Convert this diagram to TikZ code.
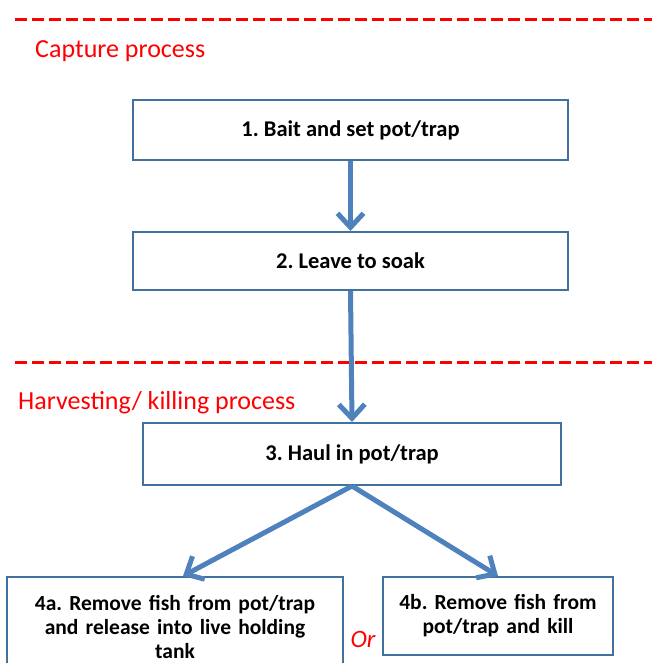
\documentclass[tikz,border=0pt]{standalone}
\usepackage{fontspec}
\setmainfont{Carlito}
\usetikzlibrary{arrows.meta}
\definecolor{boxline}{HTML}{41719C}
\definecolor{arrowblue}{HTML}{4F81BD}
\definecolor{headred}{HTML}{FF0000}
\frenchspacing
\tikzset{
  stepbox/.style={draw=boxline, line width=2pt, fill=white, inner sep=0pt, align=center,
    font=\fontsize{22.5}{24}\selectfont\bfseries},
  smallbox/.style={stepbox, font=\fontsize{21.5}{24}\selectfont\bfseries},
  flow/.style={draw=arrowblue, line width=5pt, -{Straight Barb[length=14pt,width=26pt,line width=5pt]}},
  sepline/.style={draw=headred, line width=3pt, dash pattern=on 12pt off 5pt},
  heading/.style={text=headred, anchor=west, inner sep=0pt, font=\fontsize{26}{30}\selectfont},
}
\begin{document}
\begin{tikzpicture}[x=1pt,y=-1pt]
\clip (0,0) rectangle (652,663);
\useasboundingbox (0,0) rectangle (652,663);
\coordinate (d1a) at (15,20);
\coordinate (d1b) at (652,20);
\coordinate (d2a) at (15,362);
\coordinate (d2b) at (652,362);
\draw[sepline] (d1a) -- (d1b);
\draw[sepline] (d2a) -- (d2b);
\node[heading] (h1) at (35,51) {Capture process};
\node[heading] (h2) at (18,403) {Harvesting/ killing process};
\node[stepbox, minimum width=435pt, minimum height=60pt] (b1) at (350.5,130) {1. Bait and set pot/trap};
\node[stepbox, minimum width=435pt, minimum height=58pt] (b2) at (350.5,261) {2. Leave to soak};
\node[stepbox, minimum width=418pt, minimum height=62pt] (b3) at (352,454) {3. Haul in pot/trap};
\node[smallbox, minimum width=336pt, minimum height=100pt, text width=330pt] (b4a) at (175,627) {4a. Remove fish from pot/trap\\and release into live holding\\tank};
\node[smallbox, minimum width=230pt, minimum height=78pt, text width=226pt] (b4b) at (498,616) {4b. Remove fish from\\pot/trap and kill};
\node[text=headred, font=\fontsize{25}{28}\selectfont\itshape, inner sep=0pt] (or) at (363,639) {Or};
\draw[flow] (b1.south) -- (b2.north);
\draw[flow] (b2.south) -- (b3.north);
\draw[flow] (b3.south) -- ([xshift=8pt]b4a.north);
\draw[flow] (b3.south) -- (b4b.north);
\end{tikzpicture}
\end{document}
